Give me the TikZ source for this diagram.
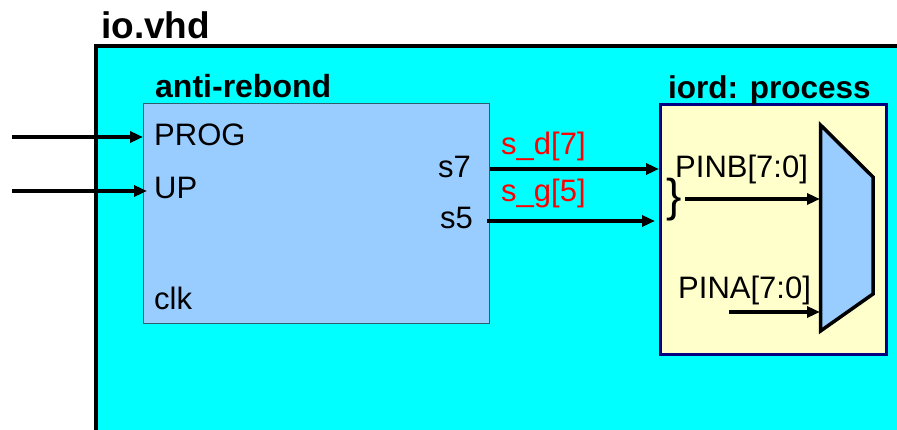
\documentclass[tikz,border=0pt]{standalone}
\usepackage{fontspec}
\setmainfont{Liberation Sans}
\usetikzlibrary{arrows.meta}
\definecolor{ioblue}{HTML}{99CCFF}
\definecolor{iocyan}{HTML}{00FFFF}
\definecolor{procyel}{HTML}{FFFFCC}
\definecolor{procnavy}{HTML}{000080}
\definecolor{blkedge}{HTML}{2F5F6F}
\tikzset{
  txt/.style={inner sep=0pt, anchor=base west, font=\fontsize{31}{36}\selectfont},
  txtr/.style={txt, anchor=base east},
  ttl/.style={inner sep=0pt, anchor=base west, font=\fontsize{32}{36}\selectfont\bfseries},
  sig/.style={txt, text=red},
  wire/.style={line width=3.5pt, -{Triangle[length=13pt,width=11pt]}},
}
\begin{document}
\begin{tikzpicture}[x=1pt,y=-1pt]
\useasboundingbox (0,0) rectangle (897,430);
\clip (0,0) rectangle (897,430);

% top-level entity
\draw[line width=4pt, fill=iocyan] (95.5,46) rectangle (915,445);
\node[inner sep=0pt, anchor=base west, font=\fontsize{37}{40}\selectfont\bfseries] (iotitle) at (101,39) {io.vhd};

% anti-rebond component
\node[draw=blkedge, line width=1pt, fill=ioblue, inner sep=0pt, anchor=north west,
      minimum width=346pt, minimum height=220pt] (ab) at (143,103) {};
\node[ttl] (abtitle) at (155,98) {anti-rebond};
\node[txt] (prog) at (154,146) {PROG};
\node[txt] (up) at (154,199) {UP};
\node[txt] (clk) at (154,309) {clk};
\node[txtr] (s7) at (471,178) {s7};
\node[txtr] (s5) at (473,229) {s5};

% iord process
\node[draw=procnavy, line width=3pt, fill=procyel, inner sep=0pt, anchor=north west,
      minimum width=226pt, minimum height=250pt] (iord) at (659,103) {};
\node[ttl, font=\fontsize{31.5}{36}\selectfont\bfseries] (iordtitle) at (668,99) {iord: process};

% multiplexer
\draw[line width=3.5pt, fill=ioblue, line join=miter]
  (820.5,125) coordinate (muxtl) -- (873,177) -- (873,294) -- (820.5,331) coordinate (muxbl) -- cycle;
\coordinate (muxb) at (820,199);
\coordinate (muxa) at (820,312);

\node[txt] (pinb) at (675,178) {PINB[7:0]};
\node[txt] (pina) at (678,299) {PINA[7:0]};
\node[inner sep=0pt, anchor=base west, font=\fontsize{46}{50}\selectfont] (brace) at (666,212) {\}};

% signals between blocks
\node[sig] (sd) at (501,155) {s\_d[7]};
\node[sig] (sg) at (501,202) {s\_g[5]};

% wires
\coordinate (inprog) at (12,137);
\coordinate (inup) at (12,191);
\coordinate (abprog) at (143,137);
\coordinate (abup) at (147,191);
\coordinate (o7) at (490,169);
\coordinate (o5) at (487,221);
\coordinate (i7) at (659,169);
\coordinate (i5) at (655,221);
\coordinate (pbstart) at (685,199);
\coordinate (pastart) at (729,312);

\draw[wire] (inprog) -- (abprog);
\draw[wire] (inup) -- (abup);
\draw[wire] (o7) -- (i7);
\draw[wire] (o5) -- (i5);
\draw[wire] (pbstart) -- (muxb);
\draw[wire] (pastart) -- (muxa);
\end{tikzpicture}
\end{document}
